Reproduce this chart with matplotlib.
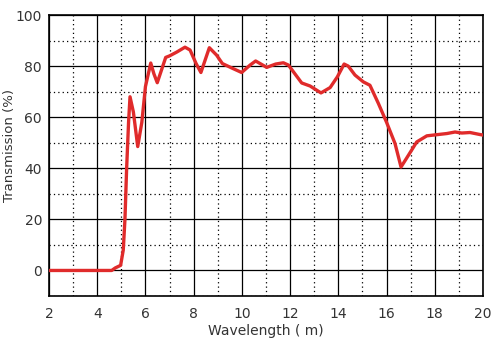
import matplotlib
matplotlib.use("Agg")
import matplotlib.pyplot as plt
from matplotlib.ticker import MultipleLocator

wavelength = [2.0, 4.0, 4.6, 4.75, 4.97, 5.08, 5.15, 5.22, 5.3, 5.36, 5.5, 5.68, 5.85,
              6.0, 6.22, 6.35, 6.49, 6.84, 7.0, 7.3, 7.64, 7.85, 8.1, 8.3, 8.65,
              8.95, 9.19, 9.64, 9.99, 10.34, 10.57, 11.03, 11.4, 11.72, 11.93,
              12.48, 12.83, 13.28, 13.66, 13.96, 14.24, 14.41, 14.69, 15.04, 15.31,
              15.66, 16.0, 16.35, 16.6, 16.9, 17.25, 17.67, 18.22, 18.5, 18.84,
              19.12, 19.46, 19.88, 20.0]
transmission = [0, 0, 0, 1, 2, 8, 20, 40, 58, 68, 62, 48.5, 58,
                72, 81.2, 77, 73.5, 83.4, 84, 85.5, 87.4, 86.3, 81, 77.5, 87.2,
                84.3, 81, 79, 77.5, 80.4, 82, 79.5, 80.8, 81.3, 80.4,
                73.4, 72.2, 69.5, 71.6, 75.8, 80.8, 80, 76.5, 73.8, 72.5,
                65.4, 58, 49.7, 40.5, 45, 50.3, 52.7, 53.3, 53.6, 54.2,
                53.8, 54, 53.2, 53]

txt = "#333333"
fig = plt.figure(figsize=(5.01, 3.45), dpi=100)
ax = fig.add_axes([0.0978, 0.142, 0.8663, 0.8145])

ax.plot(wavelength, transmission, color="#e02b2b", lw=2.4, solid_joinstyle="round", zorder=3)

ax.set_xlim(2, 20)
ax.set_ylim(-10, 100)
ax.xaxis.set_major_locator(MultipleLocator(2))
ax.xaxis.set_minor_locator(MultipleLocator(1))
ax.yaxis.set_major_locator(MultipleLocator(20))
ax.yaxis.set_minor_locator(MultipleLocator(10))
ax.grid(which="major", color="black", lw=0.9, ls="-")
ax.grid(which="minor", color="black", lw=0.9, ls=(0, (1, 2.5)))
ax.tick_params(which="both", length=0, labelsize=10, labelcolor=txt)
ax.tick_params(axis="x", pad=8)
ax.tick_params(axis="y", pad=5)
for s in ax.spines.values():
    s.set_color("black")
    s.set_linewidth(1.2)

ax.set_xlabel("Wavelength ( m)", fontsize=10, color=txt, labelpad=2)
ax.set_ylabel("Transmission (%)", fontsize=9.5, color=txt)
ax.yaxis.set_label_coords(-0.076, 0.534)

fig.savefig("out.png", dpi=100)
